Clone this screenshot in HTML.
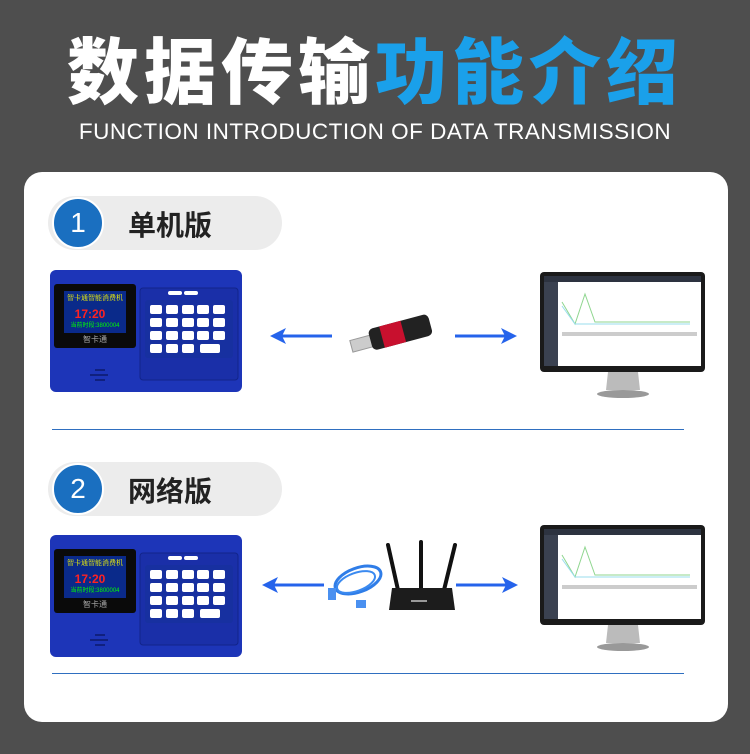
<!DOCTYPE html>
<html><head><meta charset="utf-8"><style>
body{margin:0;width:750px;height:754px;background:#4e4e4e;overflow:hidden;font-family:"Liberation Sans","Noto Sans CJK SC",sans-serif;position:relative}
.t{position:absolute;top:17px;left:0;width:750px;text-align:center;font-size:72px;font-weight:900;color:#fff;letter-spacing:5px;font-family:"Noto Sans CJK SC","WenQuanYi Zen Hei",sans-serif;line-height:100px}
.t span{color:#1aa0ea}
.s{position:absolute;top:119px;left:0;width:750px;text-align:center;font-size:22.5px;color:#fff;letter-spacing:0.5px}
.card{position:absolute;left:24px;top:172px;width:704px;height:550px;background:#fff;border-radius:18px}
.pill{position:absolute;left:48px;width:234px;height:54px;background:#ececec;border-radius:27px}
.pill .c{position:absolute;left:4px;top:1px;width:52px;height:52px;border-radius:50%;background:#1a6fc0;border:2px solid #fff;box-sizing:border-box;color:#fff;font-size:28px;text-align:center;line-height:48px}
.pill .l{position:absolute;left:80px;top:8px;font-size:28px;font-weight:bold;color:#222;font-family:"Noto Sans CJK SC",sans-serif}
.hr{position:absolute;left:52px;width:632px;height:1px;background:#2f6fc0}
svg{position:absolute}
</style></head><body>
<div class="t">数据传输<span>功能介绍</span></div>
<div class="s">FUNCTION INTRODUCTION OF DATA TRANSMISSION</div>
<div class="card"></div>
<div class="pill" style="top:196px"><div class="c">1</div><div class="l">单机版</div></div>
<div class="pill" style="top:462px"><div class="c">2</div><div class="l">网络版</div></div>
<div class="hr" style="top:429px"></div>
<div class="hr" style="top:673px"></div>

<svg width="0" height="0"><defs>
<g id="dev">
<rect x="0" y="0" width="192" height="122" rx="6" fill="#1d35b8"/>
<rect x="4" y="14" width="82" height="64" rx="3" fill="#0a0a0a"/>
<rect x="14" y="21" width="62" height="42" fill="#0a2a8a"/>
<text x="45" y="30" font-size="7" fill="#ff0" text-anchor="middle" font-family="Noto Serif CJK SC,serif">智卡通智能消费机</text>
<text x="40" y="48" font-size="12" fill="#f22" font-weight="bold" text-anchor="middle">17:20</text>
<text x="45" y="57" font-size="6" fill="#0f0" text-anchor="middle">当前时段:3800004</text>
<text x="45" y="72" font-size="8" fill="#aaa" text-anchor="middle">智卡通</text>
<rect x="90" y="18" width="98" height="92" rx="3" fill="#1a2fa8" stroke="#12248a"/>
<rect x="118" y="21" width="14" height="4" rx="2" fill="#fff"/><rect x="134" y="21" width="14" height="4" rx="2" fill="#fff"/>
<rect x="95" y="30" width="88" height="58" rx="3" fill="#1730a0"/>
<g fill="#fff">
<rect x="100" y="35" width="12" height="9" rx="2"/><rect x="116" y="35" width="12" height="9" rx="2"/><rect x="132" y="35" width="12" height="9" rx="2"/><rect x="147" y="35" width="12" height="9" rx="2"/><rect x="163" y="35" width="12" height="9" rx="2"/>
<rect x="100" y="48" width="12" height="9" rx="2"/><rect x="116" y="48" width="12" height="9" rx="2"/><rect x="132" y="48" width="12" height="9" rx="2"/><rect x="147" y="48" width="12" height="9" rx="2"/><rect x="163" y="48" width="12" height="9" rx="2"/>
<rect x="100" y="61" width="12" height="9" rx="2"/><rect x="116" y="61" width="12" height="9" rx="2"/><rect x="132" y="61" width="12" height="9" rx="2"/><rect x="147" y="61" width="12" height="9" rx="2"/><rect x="163" y="61" width="12" height="9" rx="2"/>
<rect x="100" y="74" width="12" height="9" rx="2"/><rect x="116" y="74" width="12" height="9" rx="2"/><rect x="132" y="74" width="12" height="9" rx="2"/><rect x="150" y="74" width="20" height="9" rx="2"/>
</g>
<g stroke="#0c1a6a" stroke-width="1.5"><line x1="45" y1="100" x2="55" y2="100"/><line x1="40" y1="105" x2="58" y2="105"/><line x1="45" y1="110" x2="55" y2="110"/></g>
</g>
<g id="mon">
<rect x="0" y="0" width="165" height="100" rx="4" fill="#1a1a1a"/>
<rect x="4" y="4" width="157" height="90" fill="#fff"/>
<rect x="4" y="4" width="157" height="6" fill="#2d3340"/>
<rect x="4" y="10" width="14" height="84" fill="#3a4150"/>
<polyline points="22,30 35,52 45,22 55,50 150,50" fill="none" stroke="#8fd68f" stroke-width="1"/>
<polyline points="22,34 35,52 150,52" fill="none" stroke="#9de" stroke-width="1"/>
<rect x="22" y="60" width="135" height="4" fill="#ccc"/>
<path d="M68 100 L98 100 L100 118 L66 118Z" fill="#bbb"/>
<ellipse cx="83" cy="122" rx="26" ry="4" fill="#999"/>
</g>
<g id="la"><line x1="10" y1="0" x2="62" y2="0" stroke="#2563eb" stroke-width="3"/><path d="M0 0 L16 -8 L12 0 L16 8Z" fill="#2563eb"/></g>
<g id="ra"><line x1="0" y1="0" x2="52" y2="0" stroke="#2563eb" stroke-width="3"/><path d="M62 0 L46 -8 L50 0 L46 8Z" fill="#2563eb"/></g>
</defs></svg>

<svg width="750" height="754" style="left:0;top:0">
<use href="#dev" x="50" y="270"/>
<use href="#dev" x="50" y="535"/>
<use href="#mon" x="540" y="272"/>
<use href="#mon" x="540" y="525"/>
<use href="#la" x="270" y="336"/>
<use href="#ra" x="455" y="336"/>
<use href="#la" x="262" y="585"/>
<use href="#ra" x="456" y="585"/>
<g transform="rotate(-15 390 336)">
<rect x="350" y="330" width="22" height="12" fill="#ccc" stroke="#999"/>
<rect x="370" y="324" width="62" height="22" rx="5" fill="#222"/>
<rect x="382" y="324" width="22" height="22" fill="#c8102e"/>
</g>
<ellipse cx="358" cy="580" rx="24" ry="12" fill="none" stroke="#2f7de8" stroke-width="3" transform="rotate(-20 358 580)"/>
<ellipse cx="356" cy="582" rx="20" ry="9" fill="none" stroke="#3b8af0" stroke-width="2" transform="rotate(-20 356 582)"/>
<rect x="328" y="588" width="8" height="12" fill="#4a90f0"/>
<rect x="356" y="600" width="10" height="8" fill="#4a90f0"/>
<g stroke="#111" stroke-width="4" stroke-linecap="round">
<line x1="388" y1="545" x2="398" y2="590"/><line x1="421" y1="542" x2="421" y2="588"/><line x1="455" y1="545" x2="444" y2="590"/>
</g>
<path d="M392 588 L452 588 L455 610 L389 610Z" fill="#1c1c1c"/>
<rect x="411" y="600" width="16" height="2" fill="#999"/>
</svg>
</body></html>
